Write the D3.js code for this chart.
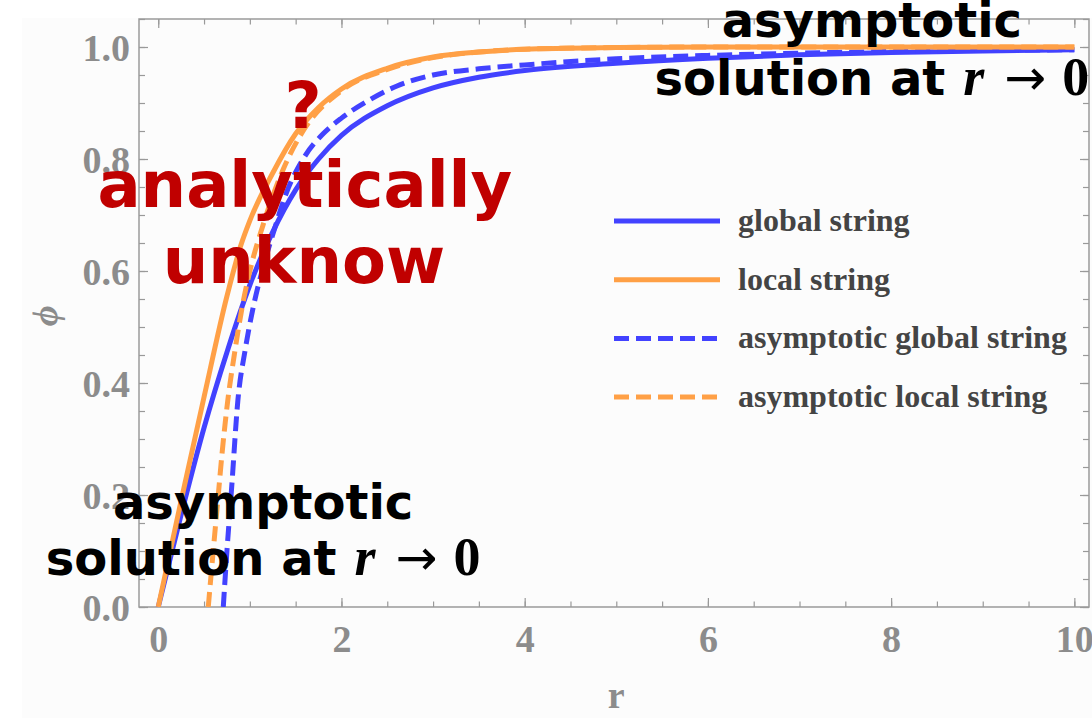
<!DOCTYPE html>
<meta charset="utf-8">
<style>
body { margin: 0; background: #fff; }
.tick-label { font: bold 38px "Liberation Serif", serif; fill: #8c8c8c; }
.axis-title { font: bold 38px "Liberation Serif", serif; fill: #8c8c8c; }
.legend text { font: bold 32px "Liberation Serif", serif; fill: #444; }
.note { font-family: "DejaVu Sans", sans-serif; font-weight: bold; }
.math { font-family: "Liberation Serif", serif; font-size: 54px; }
.arrow { font-family: "DejaVu Sans", sans-serif; font-size: 50px; font-weight: normal; }
</style>
<svg width="1092" height="718"></svg>
<script src="https://d3js.org/d3.v7.min.js"></script>
<script>

var svg = d3.select("svg");

// ---- data ----
var globalR   = [0, 0.25, 0.5, 0.75, 1.0, 1.25, 1.5, 1.75, 2.0, 2.5, 3, 3.5, 4, 5, 6, 7, 8, 9, 10];
var globalPhi = [0, 0.165, 0.32, 0.455, 0.575, 0.67, 0.745, 0.80, 0.842, 0.895, 0.927, 0.946, 0.958, 0.971, 0.98, 0.986, 0.99, 0.993, 0.995];

var localR   = [0, 0.25, 0.5, 0.75, 0.9, 1.0, 1.25, 1.5, 1.75, 2.0, 2.5, 3, 3.5, 4, 5, 6, 8, 10];
var localPhi = [0, 0.19, 0.375, 0.555, 0.645, 0.69, 0.775, 0.845, 0.892, 0.925, 0.962, 0.982, 0.991, 0.996, 0.999, 1.0, 1.0, 1.0];

var asymGlobalR   = [0.71, 0.75, 0.8, 0.87, 0.95, 1.03, 1.15, 1.25, 1.4, 1.6, 1.8, 2.0, 2.3, 2.6, 3.0, 3.5, 4.0, 5.0, 6.0, 7.0, 8.0, 9.0, 10.0];
var asymGlobalPhi = [0, 0.1, 0.21, 0.37, 0.46, 0.53, 0.61, 0.665, 0.74, 0.805, 0.845, 0.873, 0.905, 0.93, 0.95, 0.961, 0.968, 0.979, 0.985, 0.989, 0.992, 0.994, 0.995];

var asymLocalR   = [0.546, 0.6, 0.65, 0.7, 0.76, 0.83, 0.91, 1.0, 1.14, 1.36, 1.6, 2.0, 2.5, 3.0, 3.5, 4.0, 5.0, 6.0, 8.0, 10.0];
var asymLocalPhi = [0, 0.1, 0.19, 0.28, 0.37, 0.45, 0.53, 0.6, 0.68, 0.78, 0.855, 0.922, 0.96, 0.981, 0.991, 0.996, 0.999, 1.0, 1.0, 1.0];

var xTicks = [0, 2, 4, 6, 8, 10];
var yTicks = [0, 0.2, 0.4, 0.6, 0.8, 1.0];

var legendNames = ["global string", "local string", "asymptotic global string", "asymptotic local string"];

var blue = "#4242ff", orange = "#ffa046";

function zip(r, p) { return r.map(function(d, i) { return [d, p[i]]; }); }

var series = [
  {name: legendNames[0], pts: zip(globalR, globalPhi), color: blue, dash: null},
  {name: legendNames[1], pts: zip(localR, localPhi), color: orange, dash: null},
  {name: legendNames[2], pts: zip(asymGlobalR, asymGlobalPhi), color: blue, dash: "15,7"},
  {name: legendNames[3], pts: zip(asymLocalR, asymLocalPhi), color: orange, dash: "15,7"}
];

// ---- layout ----
var frame = {left: 139, right: 1089, top: 19, bottom: 607};

var x = d3.scaleLinear().domain([-0.21, 10.16]).range([frame.left, frame.right]);
var y = d3.scaleLinear().domain([0, 1.05]).range([frame.bottom, frame.top]);

// panel background
svg.append("rect")
    .attr("x", 22).attr("y", 18)
    .attr("width", 1070).attr("height", 700)
    .attr("fill", "#fcfcfc");

svg.append("defs").append("clipPath").attr("id", "plotclip")
  .append("rect")
    .attr("x", frame.left).attr("y", frame.top)
    .attr("width", frame.right - frame.left).attr("height", frame.bottom - frame.top);

// ticks on all four sides, pointing inward
var xMinor = d3.range(0, 10.01, 0.5);
var yMinor = d3.range(0, 1.051, 0.05);

function tickAxis(axisFn, scale, vals, size, transform) {
  var g = svg.append("g")
      .attr("transform", transform)
      .call(axisFn(scale).tickValues(vals).tickSize(size).tickFormat(""));
  g.select(".domain").remove();
  g.selectAll("line").attr("stroke", "#999").attr("stroke-width", 1.2);
}

tickAxis(d3.axisTop, x, xMinor, 5.5, "translate(0," + frame.bottom + ")");
tickAxis(d3.axisTop, x, xTicks, 9, "translate(0," + frame.bottom + ")");
tickAxis(d3.axisBottom, x, xMinor, 5.5, "translate(0," + frame.top + ")");
tickAxis(d3.axisBottom, x, xTicks, 9, "translate(0," + frame.top + ")");
tickAxis(d3.axisRight, y, yMinor, 6, "translate(" + frame.left + ",0)");
tickAxis(d3.axisRight, y, yTicks, 9, "translate(" + frame.left + ",0)");
tickAxis(d3.axisLeft, y, yMinor, 6, "translate(" + frame.right + ",0)");
tickAxis(d3.axisLeft, y, yTicks, 9, "translate(" + frame.right + ",0)");

svg.append("rect")
    .attr("x", frame.left).attr("y", frame.top)
    .attr("width", frame.right - frame.left).attr("height", frame.bottom - frame.top)
    .attr("fill", "none")
    .attr("stroke", "#9a9a9a")
    .attr("stroke-width", 1.5);

// tick labels
var xl = svg.append("g")
    .attr("transform", "translate(0," + frame.bottom + ")")
    .call(d3.axisBottom(x).tickValues(xTicks).tickSize(0).tickFormat(d3.format("d")));
xl.select(".domain").remove();
xl.selectAll("text").attr("class", "tick-label").attr("fill", null)
    .attr("y", 45).attr("dy", 0);

var yl = svg.append("g")
    .attr("transform", "translate(" + frame.left + ",0)")
    .call(d3.axisLeft(y).tickValues(yTicks).tickSize(0).tickPadding(9).tickFormat(d3.format(".1f")));
yl.select(".domain").remove();
yl.selectAll("text").attr("class", "tick-label").attr("fill", null).attr("dy", "0.36em");

// axis titles
svg.append("text")
    .attr("class", "axis-title")
    .attr("x", x(5)).attr("y", 708)
    .attr("text-anchor", "middle")
    .text("r");

svg.append("text")
    .attr("class", "axis-title")
    .attr("transform", "translate(57," + y(0.52) + ") rotate(-90)")
    .attr("text-anchor", "middle")
    .style("font-style", "italic")
    .style("font-size", "36px")
    .text("\u03d5");

// curves
var line = d3.line()
    .x(function(d) { return x(d[0]); })
    .y(function(d) { return y(d[1]); })
    .curve(d3.curveMonotoneX);

var drawOrder = [0, 2, 1, 3];
svg.append("g").attr("clip-path", "url(#plotclip)")
  .selectAll("path")
  .data(drawOrder.map(function(i) { return series[i]; }))
  .enter().append("path")
    .attr("d", function(d) { return line(d.pts); })
    .attr("fill", "none")
    .attr("stroke", function(d) { return d.color; })
    .attr("stroke-width", 5)
    .attr("stroke-dasharray", function(d) { return d.dash; });

// legend
var legend = svg.append("g").attr("class", "legend")
  .selectAll("g")
  .data(series)
  .enter().append("g")
    .attr("transform", function(d, i) { return "translate(614," + (221 + i * 58.7) + ")"; });

legend.append("line")
    .attr("x1", 0).attr("x2", 106)
    .attr("stroke", function(d) { return d.color; })
    .attr("stroke-width", 5)
    .attr("stroke-dasharray", function(d) { return d.dash; });

legend.append("text")
    .attr("x", 124).attr("y", 10)
    .text(function(d) { return d.name; });

// annotations
function note(r, phi, size, color, text) {
  return svg.append("text")
      .attr("class", "note")
      .attr("x", x(r)).attr("y", y(phi))
      .attr("text-anchor", "middle")
      .style("font-size", size + "px")
      .attr("fill", color)
      .text(text);
}

note(1.58, 0.856, 64, "#c00000", "?");
note(1.60, 0.715, 64, "#c00000", "analytically");
note(1.59, 0.579, 64, "#c00000", "unknow");

function limitNote(r, phi1, phi2) {
  note(r, phi1, 48, "#000", "asymptotic");
  var t = note(r, phi2, 48, "#000", "solution at");
  t.append("tspan").attr("class", "math").attr("dx", 18).style("font-style", "italic").text("r");
  t.append("tspan").attr("class", "arrow").attr("dx", 20).text("\u2192");
  t.append("tspan").attr("class", "math").attr("dx", 16).text("0");
}

limitNote(1.145, 0.158, 0.058);
limitNote(7.79, 1.017, 0.915);

</script>
